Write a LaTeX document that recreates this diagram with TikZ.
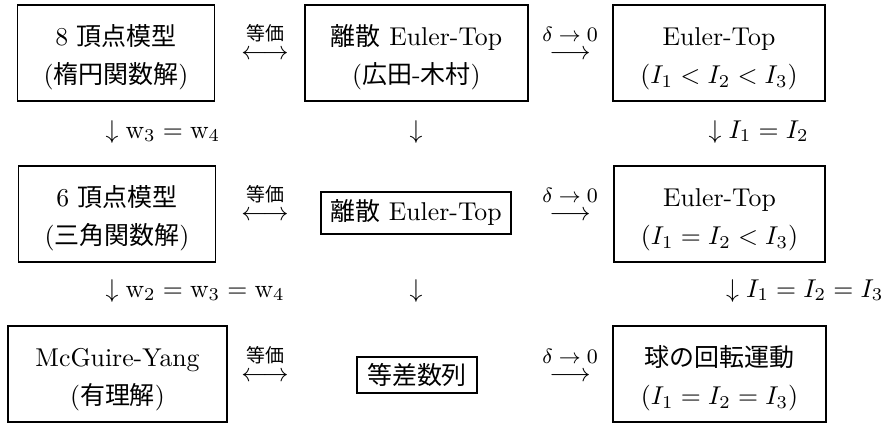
\documentclass[tikz,border=0pt]{standalone}
\usepackage{fontspec}
\usepackage{amsmath}
\newfontfamily\jp{Noto Sans CJK JP}[Scale=0.97]
\newcommand\topstrut{\rule{0pt}{11.5pt}}
\newcommand\botstrut{\rule[-2.5pt]{0pt}{2.5pt}}
\tikzset{
  box/.style={draw, line width=0.4pt, inner sep=0pt, align=center, font=\fontsize{10}{15}\selectfont},
  harrow/.style={inner sep=0pt, anchor=base, font=\fontsize{10}{12}\selectfont},
  eqlbl/.style={inner sep=0pt, font=\fontsize{7.6}{8}\selectfont},
  dlbl/.style={inner sep=0pt, font=\fontsize{8.5}{10}\selectfont},
  varrow/.style={inner sep=0pt, font=\fontsize{10}{12}\selectfont},
}
\begin{document}
\begin{tikzpicture}[x=0.3883pt, y=-0.3883pt]
\useasboundingbox (0,0) rectangle (888,423);
% row 1
\node[box, minimum width=197*0.3883pt, minimum height=96*0.3883pt] (b1) at (116,53)
  {\topstrut 8 {\jp 頂点模型}\\({\jp 楕円関数解})\botstrut};
\node[box, minimum width=223*0.3883pt, minimum height=96*0.3883pt] (b2) at (416.5,53)
  {\topstrut{\jp 離散} Euler-Top\\({\jp 広田}-{\jp 木村})\botstrut};
\node[box, minimum width=212*0.3883pt, minimum height=96*0.3883pt] (b3) at (719,53)
  {\topstrut Euler-Top\\$(I_1<I_2<I_3)$\botstrut};
% row 2
\node[box, minimum width=197*0.3883pt, minimum height=96*0.3883pt] (b4) at (117,214)
  {\topstrut 6 {\jp 頂点模型}\\({\jp 三角関数解})\botstrut};
\node[box, minimum width=190*0.3883pt, minimum height=42*0.3883pt] (b5) at (416,213)
  {{\jp 離散} Euler-Top};
\node[box, minimum width=211*0.3883pt, minimum height=96*0.3883pt] (b6) at (719.5,214)
  {\topstrut Euler-Top\\$(I_1=I_2<I_3)$\botstrut};
% row 3
\node[box, minimum width=219*0.3883pt, minimum height=96*0.3883pt] (b7) at (117.5,374)
  {\topstrut McGuire-Yang\\({\jp 有理解})\botstrut};
\node[box, minimum width=120*0.3883pt, minimum height=36*0.3883pt] (b8) at (417,375)
  {{\jp 等差数列}};
\node[box, minimum width=213*0.3883pt, minimum height=96*0.3883pt] (b9) at (719.5,374)
  {\topstrut{\jp 球の回転運動}\\$(I_1=I_2=I_3)$\botstrut};
% horizontal arrows
\begin{scope}[label distance=2.6pt]
\node[harrow, label={[eqlbl]above:{\jp 等価}}] (e1) at (265,59.4) {$\longleftrightarrow$};
\node[harrow, label={[eqlbl]above:{\jp 等価}}] (e2) at (265,220.4) {$\longleftrightarrow$};
\node[harrow, label={[eqlbl]above:{\jp 等価}}] (e3) at (265,381.4) {$\longleftrightarrow$};
\end{scope}
\begin{scope}[label distance=2.8pt]
\node[harrow, label={[dlbl]above:$\delta\to 0$}] (d1) at (570,59.4) {$\longrightarrow$};
\node[harrow, label={[dlbl]above:$\delta\to 0$}] (d2) at (570,220.4) {$\longrightarrow$};
\node[harrow, label={[dlbl]above:$\delta\to 0$}] (d3) at (570,381.4) {$\longrightarrow$};
\end{scope}
% vertical arrows with labels
\node[varrow, anchor=base west] (v1) at (105,138) {$\downarrow \mathrm{w}_3 = \mathrm{w}_4$};
\node[varrow, anchor=base] (v2) at (416,138) {$\downarrow$};
\node[varrow, anchor=base west] (v3) at (708,138) {$\downarrow I_1 = I_2$};
\node[varrow, anchor=base west] (v4) at (105,297) {$\downarrow \mathrm{w}_2 = \mathrm{w}_3 = \mathrm{w}_4$};
\node[varrow, anchor=base] (v5) at (416,297) {$\downarrow$};
\node[varrow, anchor=base east] (v6) at (884,297) {$\downarrow I_1 = I_2 = I_3$};
\end{tikzpicture}
\end{document}
